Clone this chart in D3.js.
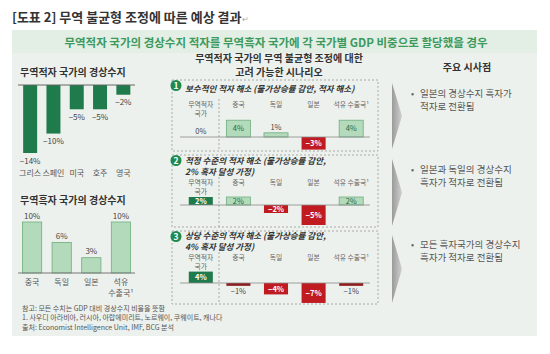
<!DOCTYPE html>
<html><head><meta charset="utf-8">
<script src="https://cdn.jsdelivr.net/npm/d3@7"></script>
<style>
body{margin:0;background:#fff;}
text{font-family:"Noto Sans CJK KR","Noto Sans",sans-serif;}
</style></head>
<body><svg id="c" width="550" height="354"></svg>
<script>
// ---- data ----
const chartTitle = "[도표 2] 무역 불균형 조정에 따른 예상 결과";
const headerText = "무역적자 국가의 경상수지 적자를 무역흑자 국가에 각 국가별 GDP 비중으로 할당했을 경우";
const deficitTitle = "무역적자 국가의 경상수지";
const deficitCountries = ["그리스","스페인","미국","호주","영국"];
const deficitValues = [-14,-10,-5,-5,-2];
const surplusTitle = "무역흑자 국가의 경상수지";
const surplusCountries = [["중국"],["독일"],["일본"],["석유","수출국¹"]];
const surplusValues = [10,6,3,10];
const scenarioHeading = ["무역적자 국가의 무역 불균형 조정에 대한","고려 가능한 시나리오"];
const scenarioColumns = [["무역적자","국가"],["중국"],["독일"],["일본"],["석유 수출국¹"]];
const scenarioTitles = [
  ["보수적인 적자 해소 (물가상승률 감안, 적자 해소)"],
  ["적정 수준의 적자 해소 (물가상승률 감안,","2% 흑자 달성 가정)"],
  ["상당 수준의 적자 해소 (물가상승률 감안,","4% 흑자 달성 가정)"]
];
const scenario1 = [0,4,1,-3,4];
const scenario2 = [2,2,-2,-5,2];
const scenario3 = [4,-1,-4,-7,-1];
const implicationsTitle = "주요 시사점";
const implications = [
  ["일본의 경상수지 흑자가","적자로 전환됨"],
  ["일본과 독일의 경상수지","흑자가 적자로 전환됨"],
  ["모든 흑자국가의 경상수지","흑자가 적자로 전환됨"]
];
const footnotes = [
  "참고: 모든 수치는 GDP 대비 경상수지 비율을 뜻함",
  "1. 사우디 아라비아, 러시아, 아랍에미리트, 노르웨이, 쿠웨이트, 캐나다",
  "출처: Economist Intelligence Unit, IMF, BCG 분석"
];

// ---- styles ----
const DARK_GREEN="#1f7a4c", LIGHT_GREEN="#b3dabb", LIGHT_STROKE="#6fae7f", RED="#c01b20", DARK_RED="#8e1d1d";
const svg = d3.select("#c");
const fmt = v => (v<0?"−":"")+Math.abs(v)+"%";

const defs = svg.append("defs");
const g = defs.append("linearGradient").attr("id","arr").attr("x1","0").attr("x2","1");
g.append("stop").attr("offset","0").attr("stop-color","#9a9a9a");
g.append("stop").attr("offset","1").attr("stop-color","#d0d0d0");

// title
const t = svg.append("text").attr("x",12).attr("y",22).attr("font-size",13).attr("font-weight","bold").attr("fill","#333").text(chartTitle);
t.append("tspan").attr("font-size",8).attr("font-weight","normal").attr("fill","#aaa").text("↵");

// panel
svg.append("rect").attr("x",12).attr("y",30).attr("width",525).attr("height",306).attr("fill","#edf1ed");
svg.append("rect").attr("x",12).attr("y",30).attr("width",525).attr("height",23).attr("fill","#e3eee5");
svg.append("text").attr("x",276).attr("y",47).attr("text-anchor","middle").attr("font-size",11.5).attr("font-weight","bold").attr("fill","#3d9a5e").text(headerText);

// ---- left chart 1 ----
svg.append("text").attr("x",20).attr("y",76).attr("font-size",10).attr("font-weight","bold").attr("fill","#333").text(deficitTitle);
const x1 = d3.scaleBand().domain(deficitCountries).range([18.5,135]).paddingInner(0.4).paddingOuter(0.2);
const y1 = d3.scaleLinear().domain([-14,0]).range([153,85]);
svg.selectAll(".b1").data(deficitValues).join("rect")
  .attr("x",(d,i)=>x1(deficitCountries[i])).attr("width",x1.bandwidth())
  .attr("y",y1(0)).attr("height",d=>y1(d)-y1(0)).attr("fill",DARK_GREEN);
svg.append("line").attr("x1",18).attr("x2",135).attr("y1",y1(0)).attr("y2",y1(0)).attr("stroke","#666");
svg.selectAll(".l1").data(deficitValues).join("text")
  .attr("x",(d,i)=>x1(deficitCountries[i])+x1.bandwidth()/2).attr("y",d=>y1(d)+10.5)
  .attr("text-anchor","middle").attr("font-size",8).attr("fill","#444").text(fmt);
svg.selectAll(".c1").data(deficitCountries).join("text")
  .attr("x",d=>x1(d)+x1.bandwidth()/2).attr("y",176).attr("text-anchor","middle")
  .attr("font-size",8).attr("fill","#555").text(d=>d);

// ---- left chart 2 ----
svg.append("text").attr("x",20).attr("y",204).attr("font-size",10).attr("font-weight","bold").attr("fill","#333").text(surplusTitle);
const names2 = surplusCountries.map(d=>d.join(" "));
const x2 = d3.scaleBand().domain(names2).range([18,135]).paddingInner(0.35).paddingOuter(0.15);
const y2 = d3.scaleLinear().domain([0,10]).range([273,222]);
svg.selectAll(".b2").data(surplusValues).join("rect")
  .attr("x",(d,i)=>x2(names2[i])).attr("width",x2.bandwidth())
  .attr("y",d=>y2(d)).attr("height",d=>y2(0)-y2(d)).attr("fill",LIGHT_GREEN).attr("stroke",LIGHT_STROKE).attr("stroke-width",0.8);
svg.append("line").attr("x1",18).attr("x2",135).attr("y1",y2(0)).attr("y2",y2(0)).attr("stroke","#777");
svg.selectAll(".l2").data(surplusValues).join("text")
  .attr("x",(d,i)=>x2(names2[i])+x2.bandwidth()/2).attr("y",d=>y2(d)-3.5)
  .attr("text-anchor","middle").attr("font-size",8).attr("fill","#444").text(fmt);
surplusCountries.forEach((lines,i)=>{
  lines.forEach((s,j)=>{
    svg.append("text").attr("x",x2(names2[i])+x2.bandwidth()/2).attr("y",285+j*11)
      .attr("text-anchor","middle").attr("font-size",8).attr("fill","#555").text(s);
  });
});

// ---- middle scenarios ----
scenarioHeading.forEach((s,i)=>{
  svg.append("text").attr("x",279).attr("y",62+i*13.5).attr("text-anchor","middle")
    .attr("font-size",10).attr("font-weight","bold").attr("fill","#333").text(s);
});
const colNames = scenarioColumns.map(d=>d.join(" "));
const xs = d3.scaleBand().domain(colNames).range([182,370]).paddingInner(0.36).paddingOuter(0.18);
const scenarios = [scenario1, scenario2, scenario3];
const boxes = [
  {top:80,bottom:151,titleY:92,headY:107,base:137,k:4.2},
  {top:155,bottom:227,titleY:164,headY:185,base:205,k:4},
  {top:231,bottom:304,titleY:239,headY:260,base:283,k:2.85}
];
boxes.forEach((b,bi)=>{
  const grp = svg.append("g");
  grp.append("rect").attr("x",172).attr("y",b.top).attr("width",206).attr("height",b.bottom-b.top)
    .attr("fill","none").attr("stroke","#9a9a9a").attr("stroke-width",0.8).attr("stroke-dasharray","2,2");
  grp.append("line").attr("x1",219).attr("x2",219).attr("y1",b.headY-8).attr("y2",b.bottom)
    .attr("stroke","#9a9a9a").attr("stroke-width",0.8).attr("stroke-dasharray","2,2");
  grp.append("circle").attr("cx",176).attr("cy",b.top+5.5).attr("r",5.5).attr("fill","#1f8a50");
  grp.append("text").attr("x",176).attr("y",b.top+8.5).attr("text-anchor","middle").attr("font-size",8.5)
    .attr("font-weight","bold").attr("fill","#fff").text(bi+1);
  scenarioTitles[bi].forEach((s,j)=>{
    grp.append("text").attr("x",185).attr("y",b.titleY+j*11).attr("font-size",8.5).attr("font-weight","bold")
      .attr("font-style","italic").attr("fill","#333").text(s);
  });
  scenarioColumns.forEach((lines,ci)=>{
    lines.forEach((s,j)=>{
      grp.append("text").attr("x",xs(colNames[ci])+xs.bandwidth()/2).attr("y",b.headY+j*8.5)
        .attr("text-anchor","middle").attr("font-size",6.8).attr("fill","#666").text(s);
    });
  });
  const y = d3.scaleLinear().domain([0,1]).range([b.base,b.base-b.k]);
  const vals = scenarios[bi];
  vals.forEach((v,ci)=>{
    const x = xs(colNames[ci]), w = xs.bandwidth();
    const h = Math.abs(y(v)-y(0));
    let fill, stroke="none", tc;
    if(ci===0){fill=DARK_GREEN; tc="#fff";}
    else if(v>=0){fill=LIGHT_GREEN; stroke=LIGHT_STROKE; tc="#1f6a40";}
    else {fill = h>=7?RED:DARK_RED; tc="#fff";}
    if(v!==0){
      grp.append("rect").attr("x",x).attr("width",w).attr("y",Math.min(y(v),y(0))).attr("height",h)
        .attr("fill",fill).attr("stroke",stroke).attr("stroke-width",0.8);
    }
    let ly, col;
    if(h>=7){ly=(y(v)+y(0))/2+2.8; col=tc;}
    else if(v>=0){ly=y(v)-3; col="#444";}
    else {ly=y(v)+8; col="#444";}
    grp.append("text").attr("x",x+w/2).attr("y",ly).attr("text-anchor","middle").attr("font-size",7.5)
      .attr("fill",col).attr("font-weight",h>=7&&tc==="#fff"?"bold":"normal").text(fmt(v));
  });
  grp.append("line").attr("x1",180).attr("x2",370).attr("y1",b.base).attr("y2",b.base).attr("stroke","#8a8a8a").attr("stroke-width",0.8);
});

// ---- arrows ----
const arrows = [[83,149],[159,226],[235,303]];
arrows.forEach(([a,b])=>{
  svg.append("path").attr("d",`M392,${a} L402,${(a+b)/2} L392,${b} Z`).attr("fill","url(#arr)");
});

// ---- implications ----
svg.append("text").attr("x",467).attr("y",71).attr("text-anchor","middle").attr("font-size",10)
  .attr("font-weight","bold").attr("fill","#333").text(implicationsTitle);
const impY = [97,173,248];
implications.forEach((lines,i)=>{
  svg.append("text").attr("x",411).attr("y",impY[i]).attr("font-size",9).attr("fill","#666").text("•");
  lines.forEach((s,j)=>{
    svg.append("text").attr("x",420).attr("y",impY[i]+j*13).attr("font-size",9.5).attr("fill","#555").text(s);
  });
});

// ---- footnotes ----
footnotes.forEach((s,i)=>{
  svg.append("text").attr("x",22).attr("y",310.5+i*9.5).attr("font-size",7).attr("fill","#555").text(s);
});
</script></body></html>
